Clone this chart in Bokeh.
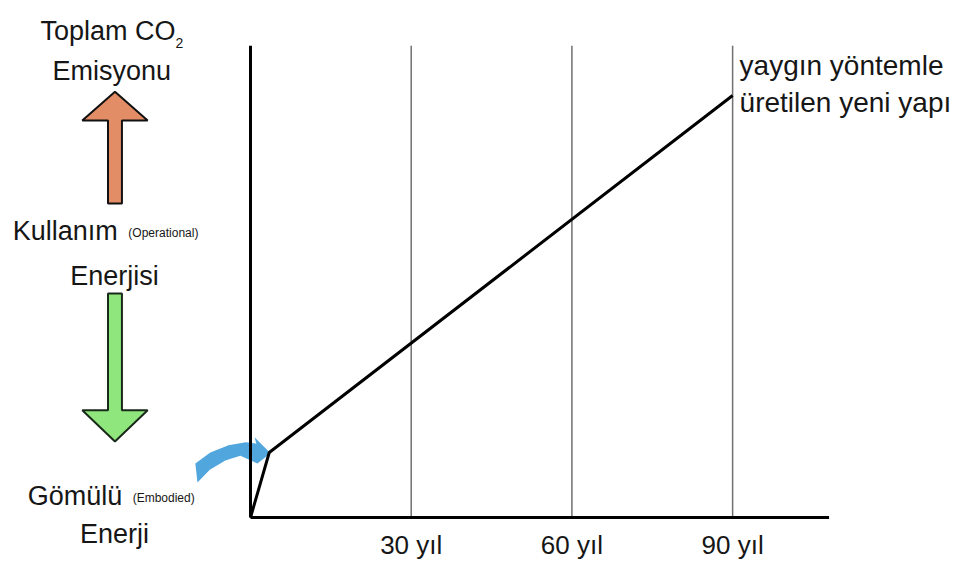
from bokeh.plotting import figure
from bokeh.models import Range1d
from bokeh.core.properties import value
from bokeh.embed import file_html
from bokeh.resources import INLINE

# ---- data ----
years = [0, 3.5, 90]            # time (years)
emission = [0, 15.4, 100]       # cumulative CO2 (relative units)
tick_years = [30, 60, 90]
tick_labels = ["30 yıl", "60 yıl", "90 yıl"]
axis_x_max = 108
axis_y_max = 111.8

series_label = ["yaygın yöntemle", "üretilen yeni yapı"]

# decorative shapes (data units)
up_arrow_x = [-25.3, -19.2, -24.0, -24.0, -26.6, -26.6, -31.4]
up_arrow_y = [100.9, 94.1, 94.1, 74.4, 74.4, 94.1, 94.1]
down_arrow_x = [-26.6, -24.0, -24.0, -19.2, -25.3, -31.4, -26.6]
down_arrow_y = [53.1, 53.1, 25.4, 25.4, 18.0, 25.4, 25.4]
blue_x = [-10.3, -7.5, -4.1, -0.9, 1.1, 0.75, 3.73, 1.3, -1.9, -4.7, -7.6, -9.9]
blue_y = [12.8, 15.4, 17.1, 17.8, 17.5, 19.0, 15.2, 12.8, 14.6, 13.5, 11.3, 8.3]

FONT = value("Liberation Sans")
TXT = "#161616"

p = figure(width=957, height=561, output_backend="svg", toolbar_location=None,
           x_range=Range1d(-46.67, 131.98), y_range=Range1d(-10.43, 122.51),
           x_axis_type=None, y_axis_type=None, min_border=0)
p.outline_line_color = None
p.grid.visible = False

# grid lines at ticks
p.segment(x0=tick_years, y0=[0] * 3, x1=tick_years, y1=[axis_y_max] * 3,
          line_color="#707070", line_width=1.5)

# blue curved arrow
p.patch(blue_x, blue_y, fill_color="#52A6DE", line_color=None)

# axes
p.segment(x0=[0, 0], y0=[0, 0], x1=[0, axis_x_max], y1=[axis_y_max, 0],
          line_color="black", line_width=3)

# emission line
p.line(years, emission, line_color="black", line_width=3)

# orange and green arrows
p.patch(up_arrow_x, up_arrow_y, fill_color="#E38D66", line_color="#111111", line_width=2)
p.patch(down_arrow_x, down_arrow_y, fill_color="#8EE67C", line_color="#1a2a1a", line_width=2)

# tick labels
p.text(x=tick_years, y=[-6.5] * 3, text=tick_labels, text_align="center",
       text_baseline="alphabetic", text_font=FONT, text_font_size="26px", text_color=TXT)

# series label
p.text(x=[91.3, 91.3], y=[107.1, 98.3], text=series_label, text_align="left",
       text_baseline="alphabetic", text_font=FONT, text_font_size="28px", text_color=TXT)

# left labels
p.text(x=[-39.2], y=[115.2], text=["Toplam CO"], text_align="left",
       text_baseline="alphabetic", text_font=FONT, text_font_size="27px", text_color=TXT)
p.text(x=[-14.0], y=[112.4], text=["2"], text_align="left",
       text_baseline="alphabetic", text_font=FONT, text_font_size="14px", text_color=TXT)
p.text(x=[-25.9, -25.4, -25.4], y=[105.9, 57.3, -3.8],
       text=["Emisyonu", "Enerjisi", "Enerji"], text_align="center",
       text_baseline="alphabetic", text_font=FONT, text_font_size="27px", text_color=TXT)
p.text(x=[-44.4, -41.6], y=[68.0, 5.2], text=["Kullanım", "Gömülü"], text_align="left",
       text_baseline="alphabetic", text_font=FONT, text_font_size="27px", text_color=TXT)
p.text(x=[-22.8, -22.0], y=[67.3, 4.5], text=["(Operational)", "(Embodied)"], text_align="left",
       text_baseline="alphabetic", text_font=FONT, text_font_size="12px", text_color=TXT)

open("out.html", "w").write(file_html(p, INLINE))
